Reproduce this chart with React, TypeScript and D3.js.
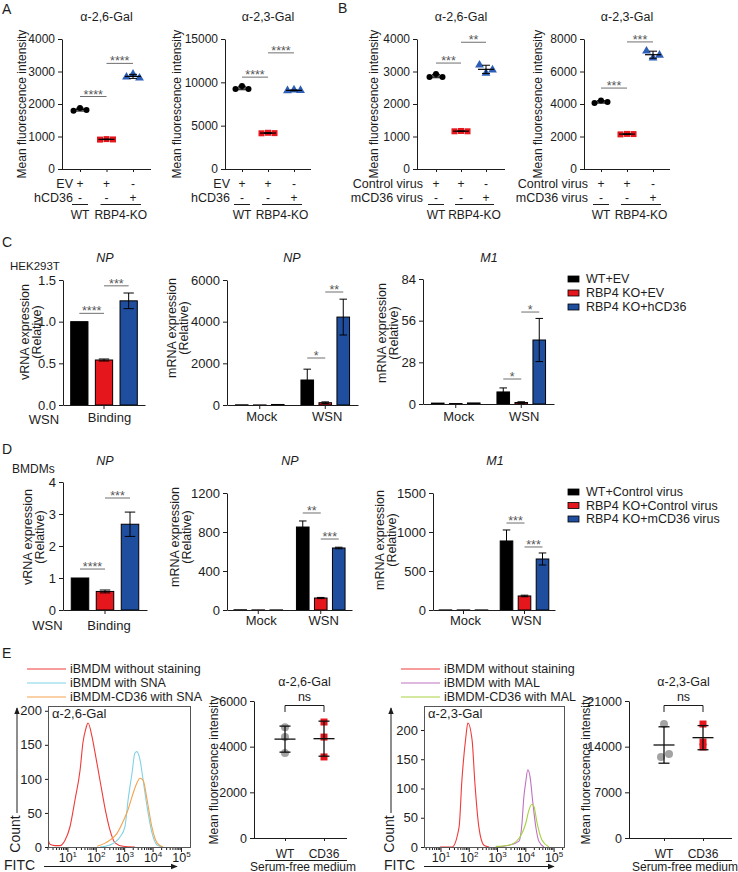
import { useEffect, useRef } from "react";
import * as d3 from "d3";

const FONT = "'Liberation Sans', Arial, Helvetica, sans-serif";
const INK = "#1c1c1c";
const RED = "#e5171d";
const BLUE = "#1f4e9e";
const TRI = "#2e5fb7";
const PT_GRAY = "#a3a3a3";
const SIG = "#6f6f6f";
const barColors = ["#000000", RED, BLUE];

// ---- A, B: lectin staining (mean fluorescence intensity)
const evRow = ["+", "+", "-"];
const cd36Row = ["-", "-", "+"];
const a26Values = [[1790, 1875, 1815], [905, 920, 910], [2830, 2920, 2800]];
const a23Values = [[9230, 9580, 9230], [4120, 4180, 4140], [9030, 9120, 9060]];
const b26Values = [[2830, 2920, 2830], [1160, 1170, 1160], [3200, 2950, 3050]];
const b23Values = [[4060, 4210, 4120], [2130, 2160, 2150], [7260, 6830, 7010]];
const a26Ticks = [0, 1000, 2000, 3000, 4000];
const a23Ticks = [0, 5000, 10000, 15000];
const b26Ticks = [0, 1000, 2000, 3000, 4000];
const b23Ticks = [0, 2000, 4000, 6000, 8000];
// [from group, to group, height, label]
const a26Sig = [[0, 1, 2230, "****"], [1, 2, 3250, "****"]];
const a23Sig = [[0, 1, 10600, "****"], [1, 2, 13400, "****"]];
const b26Sig = [[0, 1, 3260, "***"], [1, 2, 3900, "**"]];
const b23Sig = [[0, 1, 4980, "***"], [1, 2, 7820, "***"]];

// ---- C, D: infection
const cLegend = ["WT+EV", "RBP4 KO+EV", "RBP4 KO+hCD36"];
const dLegend = ["WT+Control virus", "RBP4 KO+Control virus", "RBP4 KO+mCD36 virus"];
const infCats = ["Mock", "WSN"];
const cBinding = [1.0, 0.54, 1.25];
const cBindingErr = [0, 0.012, 0.094];
const cBindingTicks = [0, 0.5, 1.0, 1.5];
const cNpMock = [8, 4, 25];
const cNpWsn = [1200, 110, 4220];
const cNpWsnErr = [520, 40, 860];
const cNpTicks = [0, 2000, 4000, 6000];
const cM1Mock = [0.6, 0.3, 0.7];
const cM1Wsn = [8.1, 1.0, 43];
const cM1WsnErr = [2.7, 0.5, 14.5];
const cM1Ticks = [0, 28, 56, 84];
const dBinding = [1.0, 0.58, 2.68];
const dBindingErr = [0, 0.045, 0.38];
const dBindingTicks = [0, 1, 2, 3, 4];
const dNpMock = [2, 1, 1];
const dNpWsn = [851, 123, 636];
const dNpWsnErr = [62, 6, 8];
const dNpTicks = [0, 400, 800, 1200];
const dM1Mock = [1, 1, 1];
const dM1Wsn = [885, 180, 654];
const dM1WsnErr = [141, 10, 77];
const dM1Ticks = [0, 500, 1000, 1500];
const noErr = [0, 0, 0];
// [category, bar a, bar b, height, label]
const cBindingSig = [[0, 0, 1, 1.1, "****"], [0, 1, 2, 1.43, "***"]];
const cNpSig = [[1, 0, 1, 2256, "*"], [1, 1, 2, 5424, "**"]];
const cM1Sig = [[1, 0, 1, 16.8, "*"], [1, 1, 2, 61.8, "*"]];
const dBindingSig = [[0, 0, 1, 1.28, "****"], [0, 1, 2, 3.5, "***"]];
const dNpSig = [[1, 0, 1, 995, "**"], [1, 1, 2, 728, "***"]];
const dM1Sig = [[1, 0, 1, 1115, "***"], [1, 1, 2, 808, "***"]];

// ---- E: flow cytometry, log10(FITC) vs count
const e26Legend = ["iBMDM without staining", "iBMDM with SNA", "iBMDM-CD36 with SNA"];
const e23Legend = ["iBMDM without staining", "iBMDM with MAL", "iBMDM-CD36 with MAL"];
const e26Colors = ["#ef3b39", "#7fd2e6", "#f5a24c"];
const e23Colors = ["#ef3b39", "#c072c2", "#a5d23e"];
const e26UnstLog = [0.3, 0.37, 0.55, 0.72, 0.9, 1.07, 1.25, 1.43, 1.53, 1.64, 1.71, 1.85, 1.95, 2.13, 2.34, 2.48, 2.66, 2.94, 3.36];
const e26UnstCount = [12, 4, 2, 2, 10, 29, 69, 113, 153, 175, 182, 162, 140, 98, 50, 25, 6, 1, 0];
const e26SnaLog = [2.13, 2.48, 2.84, 3.01, 3.12, 3.26, 3.36, 3.43, 3.54, 3.65, 3.79, 3.96, 4.14, 4.35];
const e26SnaCount = [0, 3, 15, 30, 69, 109, 138, 140, 128, 98, 59, 21, 3, 0];
const e26CdLog = [2.03, 2.48, 2.73, 2.94, 3.12, 3.26, 3.43, 3.54, 3.65, 3.79, 3.96, 4.14, 4.35];
const e26CdCount = [1, 10, 20, 37, 55, 74, 94, 101, 98, 69, 29, 6, 0];
const e23UnstLog = [0.97, 1.39, 1.64, 1.74, 1.88, 1.95, 2.1, 2.2, 2.34, 2.52, 2.7];
const e23UnstCount = [0, 0, 34, 114, 188, 212, 183, 109, 34, 3, 0];
const e23MalLog = [2.94, 3.4, 3.76, 3.86, 3.93, 4.0, 4.07, 4.15, 4.25, 4.36, 4.46, 4.64];
const e23MalCount = [0, 3, 10, 38, 85, 112, 132, 120, 75, 32, 10, 0];
const e23CdLog = [2.94, 3.4, 3.76, 4.0, 4.11, 4.22, 4.29, 4.39, 4.57, 4.82];
const e23CdCount = [1, 3, 15, 41, 63, 73, 69, 43, 12, 0];
const countTicks = [0, 50, 100, 150, 200];
const e26Wt = [4850, 4420, 3720];
const e26Cd36 = [5080, 4420, 3550];
const e23Wt = [17470, 12420, 12880];
const e23Cd36 = [17470, 14720, 13950];
const e26Ticks = [0, 2000, 4000, 6000];
const e23Ticks = [0, 7000, 14000, 21000];

function styleAxis(ax: any, size: number) {
  ax.select(".domain").attr("stroke", INK);
  ax.selectAll(".tick line").attr("stroke", INK);
  ax.selectAll(".tick text").attr("fill", INK).attr("font-size", size).attr("font-family", FONT);
}

function label(g: any, x: number, y: number, s: string, size = 12, anchor = "middle") {
  return g.append("text").attr("x", x).attr("y", y).attr("font-size", size)
    .attr("text-anchor", anchor).attr("fill", INK).text(s);
}

function vLabel(g: any, x: number, y: number, lines: string[], size: number, gap: number) {
  const t = g.append("g").attr("transform", `translate(${x},${y}) rotate(-90)`);
  lines.forEach((s, i) =>
    t.append("text").attr("y", i * gap).attr("dy", "0.35em").attr("text-anchor", "middle")
      .attr("font-size", size).attr("fill", INK).text(s));
}

function stars(g: any, x1: number, x2: number, yy: number, s: string) {
  g.append("line").attr("x1", x1).attr("x2", x2).attr("y1", yy).attr("y2", yy).attr("stroke", SIG);
  g.append("text").attr("x", (x1 + x2) / 2).attr("y", yy + 2).attr("text-anchor", "middle")
    .attr("font-size", 12.5).attr("fill", "#555").text(s);
}

function drawStain(svg: any, o: any) {
  const g = svg.append("g");
  const y = d3.scaleLinear().domain([0, o.max]).range([169, 39]);
  const x = d3.scalePoint<number>().domain([0, 1, 2]).range([o.x1, o.x3]);
  const jit = d3.scalePoint<number>().domain([0, 1, 2]).range([-6.5, 6.5]);
  const ya = g.append("g").attr("transform", `translate(${o.axisX},0)`)
    .call(d3.axisLeft(y).tickValues(o.ticks).tickSize(4).tickSizeOuter(0).tickFormat(d3.format("d")));
  styleAxis(ya, 12);
  const end = o.x3 + (o.x1 - o.axisX);
  const xa = g.append("g").attr("transform", "translate(0,169)")
    .call(d3.axisBottom(x).tickSize(3).tickFormat(() => ""));
  xa.select(".domain").remove();
  styleAxis(xa, 12);
  g.append("line").attr("x1", o.axisX).attr("x2", end).attr("y1", 169.5).attr("y2", 169.5).attr("stroke", INK);

  o.vals.forEach((vs: number[], gi: number) => {
    const gx = x(gi) as number;
    vs.forEach((v, k) => {
      const cx = gx + (jit(k) as number);
      const cy = y(v);
      if (gi === 0) g.append("circle").attr("cx", cx).attr("cy", cy).attr("r", 3).attr("fill", "#000");
      else if (gi === 1) g.append("rect").attr("x", cx - 3).attr("y", cy - 3).attr("width", 6).attr("height", 6).attr("fill", RED);
      else g.append("path").attr("d", d3.symbol(d3.symbolTriangle, 34)()).attr("transform", `translate(${cx},${cy})`).attr("fill", TRI);
    });
    const m = d3.mean(vs) as number;
    const sd = d3.deviation(vs) as number;
    g.append("line").attr("x1", gx - 8).attr("x2", gx + 8).attr("y1", y(m)).attr("y2", y(m)).attr("stroke", "#000").attr("stroke-width", 1.2);
    g.append("line").attr("x1", gx).attr("x2", gx).attr("y1", y(m - sd)).attr("y2", y(m + sd)).attr("stroke", "#000");
    [m - sd, m + sd].forEach((v) =>
      g.append("line").attr("x1", gx - 4).attr("x2", gx + 4).attr("y1", y(v)).attr("y2", y(v)).attr("stroke", "#000"));
  });

  o.sig.forEach((s: any) => stars(g, x(s[0]) as number, x(s[1]) as number, y(s[2]), s[3]));

  label(g, ((o.x1 as number) + o.x3) / 2, 21, o.title, 12.5);
  vLabel(g, o.ylabX, 104, ["Mean fluorescence intensity"], 12, 0);

  label(g, o.rowRight, 187.5, o.rows[0], 12.5, "end");
  label(g, o.rowRight, 201.5, o.rows[1], 12.5, "end");
  [0, 1, 2].forEach((i) => {
    label(g, x(i) as number, 187.5, evRow[i], 12);
    label(g, x(i) as number, 201.5, cd36Row[i], 12);
  });
  const x0 = x(0) as number;
  const kA = (x(1) as number) - 6;
  const kB = (x(2) as number) + 8;
  g.append("line").attr("x1", x0 - 8).attr("x2", x0 + 8).attr("y1", 204.5).attr("y2", 204.5).attr("stroke", INK);
  g.append("line").attr("x1", kA).attr("x2", kB).attr("y1", 204.5).attr("y2", 204.5).attr("stroke", INK);
  label(g, x0, 219, "WT", 12);
  label(g, (kA + kB) / 2, 219, "RBP4-KO", 12);
}

function drawBars(svg: any, o: any) {
  const g = svg.append("g");
  const y = d3.scaleLinear().domain([0, o.max]).range([o.y0, o.y1]);
  const x = d3.scaleBand().domain(o.cats).range([o.axisX, o.axisEnd]);
  const xi = d3.scaleBand<number>().domain([0, 1, 2]).range([-o.inner, o.inner]).paddingInner(0.3).paddingOuter(0.15);
  const ya = g.append("g").attr("transform", `translate(${o.axisX},0)`)
    .call(d3.axisLeft(y).tickValues(o.ticks).tickSize(4).tickSizeOuter(0).tickFormat(d3.format(o.fmt)));
  styleAxis(ya, 13);
  const center = (c: number) => (x(o.cats[c]) as number) + x.bandwidth() / 2;
  const cx = (c: number, k: number) => center(c) + (xi(k) as number) + xi.bandwidth() / 2;
  const bw = xi.bandwidth();
  o.vals.forEach((vs: number[], c: number) =>
    vs.forEach((v, k) => {
      g.append("rect").attr("x", cx(c, k) - bw / 2).attr("y", y(v)).attr("width", bw)
        .attr("height", Math.max(0, o.y0 - y(v))).attr("fill", barColors[k]).attr("stroke", "#000").attr("stroke-width", 1);
      const e = o.errs[c][k];
      if (e > 0) {
        const xx = cx(c, k);
        g.append("line").attr("x1", xx).attr("x2", xx).attr("y1", y(Math.max(0, v - e))).attr("y2", y(v + e)).attr("stroke", "#000");
        [v - e, v + e].forEach((t) =>
          g.append("line").attr("x1", xx - bw * 0.3).attr("x2", xx + bw * 0.3).attr("y1", y(t)).attr("y2", y(t)).attr("stroke", "#000"));
      }
    })
  );
  const xa = g.append("g").attr("transform", `translate(0,${o.y0})`)
    .call(d3.axisBottom(x).tickSize(4).tickSizeOuter(0).tickFormat(() => ""));
  styleAxis(xa, 13);
  o.cats.forEach((c: string, i: number) => label(g, center(i) + o.labelDx, o.labelY, c, 13));
  o.sig.forEach((s: any) => stars(g, cx(s[0], s[1]), cx(s[0], s[2]), y(s[3]), s[4]));
  label(g, o.titleX, o.titleY, o.title, 12.5).attr("font-style", "italic");
  vLabel(g, o.ylabX, o.ylabY, o.ylab, 12.5, 11.5);
}

function drawLegend(svg: any, names: string[], y0: number, dy: number) {
  names.forEach((n, i) => {
    const yy = y0 + i * dy;
    svg.append("rect").attr("x", 568).attr("y", yy - 3).attr("width", 11).attr("height", 6)
      .attr("fill", barColors[i]).attr("stroke", "#000").attr("stroke-width", 0.8);
    label(svg, 586, yy, n, 12.5, "start").attr("dy", "0.35em");
  });
}

function drawHisto(svg: any, o: any) {
  const g = svg.append("g");
  const x = d3.scaleLog().domain([10 ** o.eLo, 10 ** o.eHi]).range([o.left, o.right]);
  const y = d3.scaleLinear().domain([0, o.yMax]).range([847, 706]);
  g.append("clipPath").attr("id", o.id).append("rect")
    .attr("x", o.left).attr("y", 706).attr("width", o.right - o.left).attr("height", 142);
  const line = d3.line<[number, number]>().x((d) => x(10 ** d[0])).y((d) => y(d[1])).curve(d3.curveMonotoneX);
  o.curves.forEach((cv: any) =>
    g.append("path").attr("d", line(d3.zip(cv.e, cv.c) as [number, number][])).attr("fill", "none")
      .attr("stroke", cv.color).attr("stroke-width", 1.1).attr("clip-path", `url(#${o.id})`));
  g.append("rect").attr("x", o.left + 0.5).attr("y", 706.5).attr("width", o.right - o.left).attr("height", 141)
    .attr("fill", "none").attr("stroke", "#555");
  const ya = g.append("g").attr("transform", `translate(${o.left},0)`)
    .call(d3.axisLeft(y).tickValues(countTicks).tickSize(3).tickSizeOuter(0));
  ya.select(".domain").remove();
  styleAxis(ya, 13);
  x.ticks().forEach((t: number) => {
    const lg = Math.log10(t);
    const major = Math.abs(lg - Math.round(lg)) < 1e-6;
    g.append("line").attr("x1", x(t)).attr("x2", x(t)).attr("y1", 848).attr("y2", 848 + (major ? 4 : 2)).attr("stroke", INK);
    if (major && Math.round(lg) >= 1) {
      const tx = g.append("text").attr("x", x(t)).attr("y", 862).attr("text-anchor", "middle").attr("font-size", 12.5).attr("fill", INK);
      tx.append("tspan").text("10");
      tx.append("tspan").attr("dy", -5).attr("font-size", 8).text(String(Math.round(lg)));
    }
  });
  label(g, o.left + 4, 718, o.label, 13, "start");
  // axis arrows
  g.append("line").attr("x1", o.countX + 2).attr("x2", o.countX + 2).attr("y1", 813).attr("y2", 708)
    .attr("stroke", INK).attr("marker-end", "url(#arrow)");
  vLabel(g, o.countX, 834, ["Count"], 14, 0);
  label(g, o.fitcX, 870, "FITC", 14, "start");
  g.append("line").attr("x1", o.arrowX0).attr("x2", o.arrowX1).attr("y1", 866.5).attr("y2", 866.5)
    .attr("stroke", INK).attr("marker-end", "url(#arrow)");
  // legend
  o.names.forEach((n: string, i: number) => {
    const yy = 669 + i * 14;
    g.append("line").attr("x1", o.legX).attr("x2", o.legX + 39).attr("y1", yy).attr("y2", yy).attr("stroke", o.curves[i].color);
    label(g, o.legX + 43, yy, n, 12.5, "start").attr("dy", "0.35em");
  });
}

function drawMfi(svg: any, o: any) {
  const g = svg.append("g");
  const y = d3.scaleLinear().domain([0, o.max]).range([838, 701]);
  const x = d3.scalePoint().domain(["WT", "CD36"]).range([o.xWt, o.xCd]);
  const ya = g.append("g").attr("transform", `translate(${o.axisX},0)`)
    .call(d3.axisLeft(y).tickValues(o.ticks).tickSize(4).tickSizeOuter(0).tickFormat(d3.format("d")));
  styleAxis(ya, 12.5);
  g.append("line").attr("x1", o.axisX).attr("x2", o.axisEnd).attr("y1", 838.5).attr("y2", 838.5).attr("stroke", INK);
  const xa = g.append("g").attr("transform", "translate(0,838)").call(d3.axisBottom(x).tickSize(3).tickFormat(() => ""));
  xa.select(".domain").remove();
  styleAxis(xa, 12);
  [o.wt, o.cd].forEach((vs: number[], gi: number) => {
    const gx = x(gi === 0 ? "WT" : "CD36") as number;
    vs.forEach((v, k) => {
      const px = gx + (gi === 0 ? o.wtDx[k] : 0);
      if (gi === 0) g.append("circle").attr("cx", px).attr("cy", y(v)).attr("r", 4).attr("fill", PT_GRAY);
      else g.append("rect").attr("x", px - 3.5).attr("y", y(v) - 3.5).attr("width", 7).attr("height", 7).attr("fill", RED);
    });
    const m = d3.mean(vs) as number;
    const sd = d3.deviation(vs) as number;
    g.append("line").attr("x1", gx - 10.5).attr("x2", gx + 10.5).attr("y1", y(m)).attr("y2", y(m)).attr("stroke", "#111").attr("stroke-width", 1.3);
    g.append("line").attr("x1", gx).attr("x2", gx).attr("y1", y(m - sd)).attr("y2", y(m + sd)).attr("stroke", "#111").attr("stroke-width", 1.3);
    [m - sd, m + sd].forEach((v) =>
      g.append("line").attr("x1", gx - 5.5).attr("x2", gx + 5.5).attr("y1", y(v)).attr("y2", y(v)).attr("stroke", "#111").attr("stroke-width", 1.3));
  });
  const xw = x("WT") as number;
  const xc = x("CD36") as number;
  label(g, xw, 857.5, "WT", 12);
  label(g, xc, 857.5, "CD36", 12);
  g.append("line").attr("x1", o.ulFrom).attr("x2", o.ulTo).attr("y1", 860.5).attr("y2", 860.5).attr("stroke", INK);
  label(g, o.mediumX, 870.5, "Serum-free medium", 12);
  g.append("path").attr("d", `M${xw},712V705.5H${xc}V712`).attr("fill", "none").attr("stroke", INK);
  label(g, (xw + xc) / 2, 700.5, "ns", 12.5);
  label(g, (xw + xc) / 2, 685.5, o.title, 12.5);
  vLabel(g, o.ylabX, 770, ["Mean fluorescence intensity"], 12, 0);
}

const App = () => {
  const boxRef = useRef<HTMLDivElement | null>(null);

  useEffect(() => {
    if (!boxRef.current) return;
    const svg = d3.select(boxRef.current).append("svg")
      .attr("width", 738).attr("height", 872)
      .style("position", "absolute").style("left", "0px").style("top", "0px")
      .style("background", "#fff").attr("font-family", FONT);

    svg.append("defs").append("marker").attr("id", "arrow").attr("viewBox", "0 0 10 10")
      .attr("refX", 9).attr("refY", 5).attr("markerWidth", 7).attr("markerHeight", 7).attr("orient", "auto")
      .append("path").attr("d", "M0,1L10,5L0,9z").attr("fill", INK);

    // panel letters
    label(svg, 2, 14, "A", 14, "start");
    label(svg, 338, 13, "B", 14, "start");
    label(svg, 2, 247, "C", 14, "start");
    label(svg, 2, 454, "D", 14, "start");
    label(svg, 2, 658, "E", 14, "start");

    drawStain(svg, { axisX: 62, x1: 80, x3: 133, max: 4000, ticks: a26Ticks, vals: a26Values, sig: a26Sig, title: "α-2,6-Gal", ylabX: 22, rows: ["EV", "hCD36"], rowRight: 73 });
    drawStain(svg, { axisX: 225, x1: 242, x3: 294, max: 15000, ticks: a23Ticks, vals: a23Values, sig: a23Sig, title: "α-2,3-Gal", ylabX: 177, rows: ["EV", "hCD36"], rowRight: 230 });
    drawStain(svg, { axisX: 417, x1: 436, x3: 486, max: 4000, ticks: b26Ticks, vals: b26Values, sig: b26Sig, title: "α-2,6-Gal", ylabX: 374, rows: ["Control virus", "mCD36 virus"], rowRight: 423 });
    drawStain(svg, { axisX: 584, x1: 601, x3: 653, max: 8000, ticks: b23Ticks, vals: b23Values, sig: b23Sig, title: "α-2,3-Gal", ylabX: 538, rows: ["Control virus", "mCD36 virus"], rowRight: 588 });

    // C
    label(svg, 10, 270, "HEK293T", 11.5, "start");
    label(svg, 44, 424, "WSN", 13);
    drawBars(svg, { axisX: 63, axisEnd: 145, y0: 405, y1: 280, max: 1.5, ticks: cBindingTicks, fmt: ".1f", cats: ["Binding"], vals: [cBinding], errs: [cBindingErr], sig: cBindingSig, title: "NP", titleX: 105, titleY: 262, labelY: 422, labelDx: 5.5, ylab: ["vRNA expression", "(Relative)"], ylabX: 25, ylabY: 332, inner: 37 });
    drawBars(svg, { axisX: 227, axisEnd: 358, y0: 405, y1: 280, max: 6000, ticks: cNpTicks, fmt: "d", cats: infCats, vals: [cNpMock, cNpWsn], errs: [noErr, cNpWsnErr], sig: cNpSig, title: "NP", titleX: 292, titleY: 262, labelY: 421, labelDx: 2, ylab: ["mRNA expression", "(Relative)"], ylabX: 172, ylabY: 328, inner: 27 });
    drawBars(svg, { axisX: 423, axisEnd: 554, y0: 404, y1: 279, max: 84, ticks: cM1Ticks, fmt: "d", cats: infCats, vals: [cM1Mock, cM1Wsn], errs: [noErr, cM1WsnErr], sig: cM1Sig, title: "M1", titleX: 489, titleY: 262, labelY: 421, labelDx: 3, ylab: ["mRNA expression", "(Relative)"], ylabX: 382, ylabY: 333, inner: 27 });
    drawLegend(svg, cLegend, 279, 14);

    // D
    label(svg, 12, 473, "BMDMs", 12, "start");
    label(svg, 47.5, 630, "WSN", 13);
    drawBars(svg, { axisX: 63, axisEnd: 147, y0: 610, y1: 482, max: 4, ticks: dBindingTicks, fmt: "d", cats: ["Binding"], vals: [dBinding], errs: [dBindingErr], sig: dBindingSig, title: "NP", titleX: 105, titleY: 465, labelY: 630, labelDx: 4, ylab: ["vRNA expression", "(Relative)"], ylabX: 28, ylabY: 537, inner: 37.5 });
    drawBars(svg, { axisX: 227, axisEnd: 352, y0: 610, y1: 493, max: 1200, ticks: dNpTicks, fmt: "d", cats: infCats, vals: [dNpMock, dNpWsn], errs: [noErr, dNpWsnErr], sig: dNpSig, title: "NP", titleX: 290, titleY: 465, labelY: 625, labelDx: 3, ylab: ["mRNA expression", "(Relative)"], ylabX: 175, ylabY: 537, inner: 27 });
    drawBars(svg, { axisX: 433, axisEnd: 555, y0: 610, y1: 493, max: 1500, ticks: dM1Ticks, fmt: "d", cats: infCats, vals: [dM1Mock, dM1Wsn], errs: [noErr, dM1WsnErr], sig: dM1Sig, title: "M1", titleX: 495, titleY: 465, labelY: 625, labelDx: 2, ylab: ["mRNA expression", "(Relative)"], ylabX: 380, ylabY: 540, inner: 27 });
    drawLegend(svg, dLegend, 492, 13.5);

    // E
    drawHisto(svg, {
      id: "clipE1", left: 48, right: 190, eLo: 0.3, eHi: 5.3, yMax: 207, label: "α-2,6-Gal",
      countX: 15, fitcX: 4, arrowX0: 44, arrowX1: 177, legX: 27, names: e26Legend,
      curves: [
        { e: e26UnstLog, c: e26UnstCount, color: e26Colors[0] },
        { e: e26SnaLog, c: e26SnaCount, color: e26Colors[1] },
        { e: e26CdLog, c: e26CdCount, color: e26Colors[2] },
      ],
    });
    drawHisto(svg, {
      id: "clipE2", left: 424, right: 564, eLo: 0.4, eHi: 5.35, yMax: 241, label: "α-2,3-Gal",
      countX: 389, fitcX: 384, arrowX0: 424, arrowX1: 554, legX: 401, names: e23Legend,
      curves: [
        { e: e23UnstLog, c: e23UnstCount, color: e23Colors[0] },
        { e: e23MalLog, c: e23MalCount, color: e23Colors[1] },
        { e: e23CdLog, c: e23CdCount, color: e23Colors[2] },
      ],
    });
    drawMfi(svg, { axisX: 254, axisEnd: 347, xWt: 285, xCd: 324, max: 6000, ticks: e26Ticks, wt: e26Wt, cd: e26Cd36, wtDx: [0, 0, 0], ulFrom: 265, ulTo: 347, mediumX: 303, title: "α-2,6-Gal", ylabX: 214 });
    drawMfi(svg, { axisX: 629, axisEnd: 732, xWt: 664, xCd: 703, max: 21000, ticks: e23Ticks, wt: e23Wt, cd: e23Cd36, wtDx: [0, -3, 5], ulFrom: 644, ulTo: 732, mediumX: 685, title: "α-2,3-Gal", ylabX: 586 });

    return () => {
      svg.remove();
    };
  }, []);

  return <div ref={boxRef}></div>;
};

export default App;
